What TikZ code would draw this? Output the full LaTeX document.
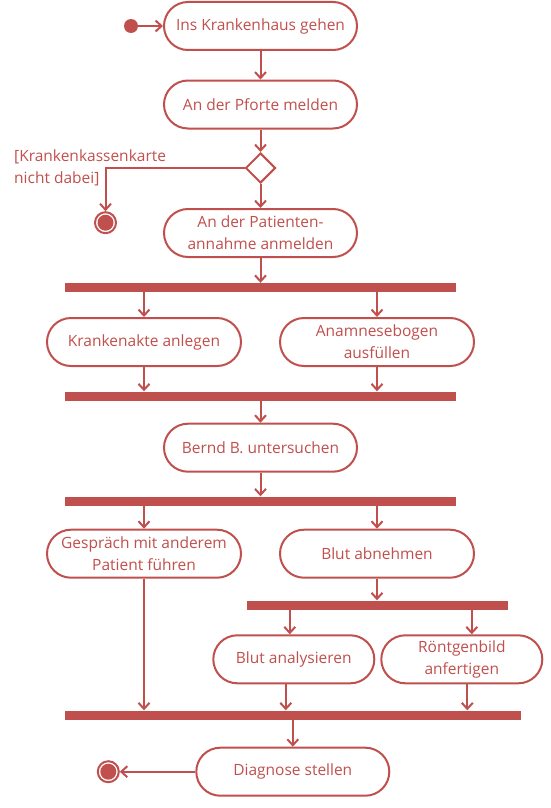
\documentclass[tikz,border=0pt]{standalone}
\usepackage{fontspec}
\setmainfont{Open Sans}
\usepackage{tikz}
\usetikzlibrary{positioning}
\usetikzlibrary{shapes,arrows,calc,arrows.meta}
\definecolor{umlred}{HTML}{C0504D}

\begin{document}
\begin{tikzpicture}[on grid, auto,
    every node/.style={text=umlred, font=\fontsize{15.5}{22}\selectfont},
    activity/.style={draw=umlred, line width=2pt, fill=white, rectangle, rounded corners=24pt,
      minimum height=48pt, minimum width=193pt, inner sep=0pt, align=center},
    decision/.style={diamond, draw=umlred, line width=2pt, fill=white, aspect=1,
      minimum width=30pt, minimum height=30pt, inner sep=0pt},
    bar/.style={rectangle, fill=umlred, inner sep=0pt, minimum height=9pt, minimum width=391pt},
    initial/.style={circle, fill=umlred, minimum size=14pt, inner sep=0pt},
    final/.style={circle, draw=umlred, line width=2pt, fill=white, minimum size=21pt, inner sep=0pt,
      path picture={\fill[umlred] (path picture bounding box.center) circle (8pt);}},
    flow/.style={draw=umlred, line width=2pt, -{Straight Barb[length=6pt,width=11pt]}}]
    \useasboundingbox (0pt,0pt) rectangle (551pt,-808pt);
    % Nodes
    \node [activity] (ins) at (260.5pt,-26pt) {Ins Krankenhaus gehen};
    \node [initial, left=129.5pt of ins] (start) {};
    \node [activity, below=78.5pt of ins] (pforte) {An der Pforte melden};
    \node [decision, below=63.5pt of pforte] (dec) {};
    \node [activity, below=65pt of dec] (anmelden) {An der Patienten-\\annahme anmelden};
    \node [final, below left=54.7pt and 155pt of dec] (stop1) {};
    \node [anchor=north west, inner sep=0pt, align=left] (guard) at (14pt,-150pt) {[Krankenkassenkarte\\nicht dabei]};

    \node [bar, below=54.5pt of anmelden] (fork1) {};
    \node [activity, below left=54.5pt and 116.5pt of fork1, minimum width=194pt] (akte) {Krankenakte anlegen};
    \node [activity, below right=54.5pt and 116.5pt of fork1, minimum width=194pt] (bogen) {Anamnesebogen\\ausfüllen};
    \node [bar, below=108.5pt of fork1] (join1) {};
    \node [activity, below=51.7pt of join1] (bernd) {Bernd B. untersuchen};
    \node [bar, below=53.3pt of bernd] (fork2) {};

    \node [activity, below left=52.7pt and 116.5pt of fork2, minimum width=194pt] (gespraech) {Gespräch mit anderem\\Patient führen};
    \node [activity, below right=52.7pt and 116.5pt of fork2, minimum width=194pt] (blut) {Blut abnehmen};
    \node [bar, minimum width=261pt, below right=51.3pt and 0.8pt of blut] (fork3) {};
    \node [activity, minimum width=161pt, below left=54.3pt and 84pt of fork3] (analyse) {Blut analysieren};
    \node [activity, minimum width=161pt, below right=54.3pt and 84pt of fork3] (roentgen) {Röntgenbild\\anfertigen};
    \node [bar, minimum width=455.7pt, below left=55.7pt and 1pt of analyse] (join2) {};
    \node [activity, below=56.7pt of join2] (diagnose) {Diagnose stellen};
    \node [final, left=184.5pt of diagnose] (stop2) {};
    % Arrows
    \draw [flow] (start) -- (ins);
    \draw [flow] (ins) -- (pforte);
    \draw [flow] (pforte) -- (dec);
    \draw [flow] (dec) -- (anmelden);
    \draw [flow] (dec) -| (stop1);
    \draw [flow] (anmelden) -- (fork1);
    \draw [flow] (fork1.south -| akte) -- (akte);
    \draw [flow] (fork1.south -| bogen) -- (bogen);
    \draw [flow] (akte) -- (akte |- join1.north);
    \draw [flow] (bogen) -- (bogen |- join1.north);
    \draw [flow] (join1) -- (bernd);
    \draw [flow] (bernd) -- (fork2);
    \draw [flow] (fork2.south -| gespraech) -- (gespraech);
    \draw [flow] (fork2.south -| blut) -- (blut);
    \draw [flow] (blut) -- (blut |- fork3.north);
    \draw [flow] ($(fork3.south -| analyse)+(-4pt,0)$) -- ($(analyse.north)+(-4pt,0)$);
    \draw [flow] ($(fork3.south -| roentgen)+(10pt,0)$) -- ($(roentgen.north)+(10pt,0)$);
    \draw [flow] (gespraech) -- (gespraech |- join2.north);
    \draw [flow] ($(analyse.south)+(-8pt,0)$) -- ($(analyse.south |- join2.north)+(-8pt,0)$);
    \draw [flow] ($(roentgen.south)+(5.5pt,0)$) -- ($(roentgen.south |- join2.north)+(5.5pt,0)$);
    \draw [flow] (join2) -- (diagnose);
    \draw [flow] (diagnose) -- (stop2);
  \end{tikzpicture}
\end{document}
